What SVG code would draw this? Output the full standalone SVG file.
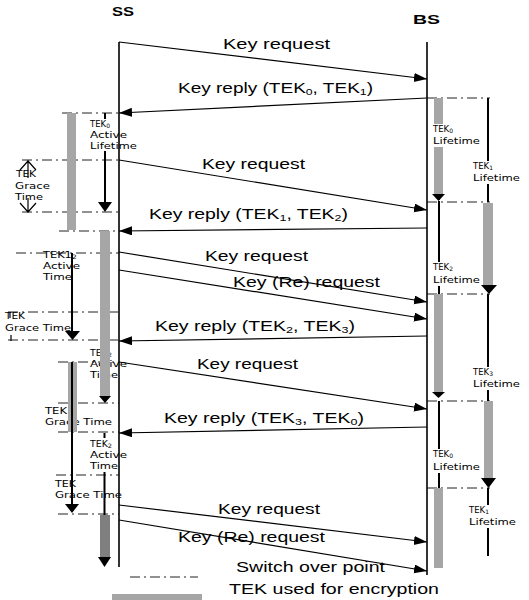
<svg xmlns="http://www.w3.org/2000/svg" width="529" height="600" viewBox="0 0 529 600">
<defs>
<style>
.msg{font-family:"Liberation Sans",Arial,sans-serif;font-size:14px;fill:#000}
.hd{font-family:"Liberation Sans",Arial,sans-serif;font-size:12px;font-weight:bold;fill:#000}
.sm{font-family:"DejaVu Sans",Verdana,sans-serif;font-size:8.5px;fill:#000}
.dd{stroke:#222;stroke-width:1;stroke-dasharray:10 4 2 4;fill:none}
.life{stroke:#000;stroke-width:1.6;fill:none}
.tl{stroke:#000;stroke-width:2;fill:none}
.grey{fill:#a6a6a6}
.dark{fill:#7f7f7f}
.ah{fill:#000}
.bg{fill:#fff}
.m{stroke:#000;stroke-width:1.2;fill:none;marker-end:url(#arr)}
.thin{stroke:#000;stroke-width:1.2;fill:none}
</style>
<marker id="arr" markerUnits="userSpaceOnUse" markerWidth="14" markerHeight="10" refX="13" refY="4.5" orient="auto">
<path d="M0,0 L13,4.5 L0,9 z" fill="#000"/>
</marker>
</defs>
<rect width="529" height="600" fill="#fff"/>

<g id="switch-lines">
<line class="dd" x1="62" y1="113" x2="119" y2="113"/>
<line class="dd" x1="22" y1="160" x2="119" y2="160"/>
<line class="dd" x1="22" y1="212" x2="119" y2="212"/>
<line class="dd" x1="59" y1="231" x2="119" y2="231"/>
<line class="dd" x1="16" y1="253" x2="119" y2="253"/>
<line class="dd" x1="8" y1="312" x2="119" y2="312"/>
<line class="dd" x1="8" y1="340" x2="119" y2="340"/>
<line class="dd" x1="58" y1="362" x2="119" y2="362"/>
<line class="dd" x1="58" y1="403" x2="119" y2="403"/>
<line class="dd" x1="58" y1="432" x2="119" y2="432"/>
<line class="dd" x1="56" y1="475" x2="119" y2="475"/>
<line class="dd" x1="58" y1="514" x2="119" y2="514"/>
<line class="dd" x1="427" y1="98" x2="490" y2="98"/>
<line class="dd" x1="427" y1="202" x2="490" y2="202"/>
<line class="dd" x1="427" y1="294" x2="490" y2="294"/>
<line class="dd" x1="427" y1="401" x2="490" y2="401"/>
<line class="dd" x1="427" y1="488" x2="490" y2="488"/>
</g>

<g id="ss-labels">
<text class="sm" x="16" y="177" textLength="20" lengthAdjust="spacingAndGlyphs">TEK</text>
<text class="sm" x="15" y="189" textLength="35" lengthAdjust="spacingAndGlyphs">Grace</text>
<text class="sm" x="15" y="200" textLength="28" lengthAdjust="spacingAndGlyphs">Time</text>
<text class="sm" x="43" y="258" textLength="34" lengthAdjust="spacingAndGlyphs">TEK1<tspan font-size="6" dy="1">2</tspan></text>
<text class="sm" x="43" y="269" textLength="37" lengthAdjust="spacingAndGlyphs">Active</text>
<text class="sm" x="43" y="280" textLength="29" lengthAdjust="spacingAndGlyphs">Time</text>
<text class="sm" x="5" y="319" textLength="20" lengthAdjust="spacingAndGlyphs">TEK</text>
<text class="sm" x="5" y="331" textLength="66" lengthAdjust="spacingAndGlyphs">Grace Time</text>
<text class="sm" x="90" y="356" textLength="22" lengthAdjust="spacingAndGlyphs">TEK<tspan font-size="6" dy="1">2</tspan></text>
<text class="sm" x="90" y="367" textLength="37" lengthAdjust="spacingAndGlyphs">Active</text>
<text class="sm" x="90" y="378" textLength="28" lengthAdjust="spacingAndGlyphs">Time</text>
<text class="sm" x="45" y="414" textLength="22" lengthAdjust="spacingAndGlyphs">TEK</text>
<text class="sm" x="45" y="425" textLength="67" lengthAdjust="spacingAndGlyphs">Grace Time</text>
<text class="sm" x="55" y="487" textLength="21" lengthAdjust="spacingAndGlyphs">TEK</text>
<text class="sm" x="55" y="498" textLength="67" lengthAdjust="spacingAndGlyphs">Grace Time</text>
</g>

<g id="grace-marks">
<path class="thin" d="M28,160 V178 M20,170 L28,161 L36,170"/>
<path class="thin" d="M28,198 V212 M20,203 L28,212 L36,203"/>
<path class="thin" d="M10,312 V318 M11,335 V341"/>
</g>

<g id="bs-timeline-under">
<line class="tl" x1="439" y1="98" x2="439" y2="200"/>
</g>

<g id="tek-bars">
<rect class="grey" x="67" y="113" width="9" height="117"/>
<rect class="grey" x="100" y="231" width="10" height="165"/>
<polygon class="ah" points="99,396 111,396 105,403"/>
<rect class="grey" x="68" y="362" width="9" height="70"/>
<rect class="dark" x="100" y="515" width="10" height="42"/>
<rect class="grey" x="434" y="98" width="9" height="97"/>
<polygon class="ah" points="432,194 445,194 438.5,201"/>
<rect class="grey" x="483" y="203" width="10" height="83"/>
<polygon class="ah" points="481,285 497,285 489,294"/>
<rect class="grey" x="434" y="294" width="9" height="99"/>
<polygon class="ah" points="432,392 445,392 438.5,398"/>
<rect class="grey" x="484" y="401" width="9" height="78"/>
<polygon class="ah" points="481,478 496,478 488.5,488"/>
<rect class="grey" x="434" y="488" width="9" height="80"/>
</g>

<g id="ss-timeline">
<line class="tl" x1="105" y1="113" x2="105" y2="204"/>
<polygon class="ah" points="98,202 112,202 105,212"/>
<line class="tl" x1="72" y1="253" x2="72" y2="332"/>
<polygon class="ah" points="65,331 80,331 72.5,340"/>
<line class="tl" x1="72" y1="362" x2="72" y2="505"/>
<polygon class="ah" points="65,504 79,504 72,513"/>
<line class="tl" x1="104.5" y1="433" x2="104.5" y2="515"/>
<line class="tl" x1="104.5" y1="557" x2="104.5" y2="559"/>
<polygon class="ah" points="98,557 111,557 104.5,567"/>
</g>

<g id="bs-timeline">
<line class="tl" x1="439" y1="201" x2="439" y2="294"/>
<line class="tl" x1="439" y1="401" x2="439" y2="488"/>
<line class="tl" x1="488" y1="98" x2="488" y2="202"/>
<line class="tl" x1="488" y1="294" x2="488" y2="401"/>
<line class="tl" x1="488" y1="488" x2="488" y2="556"/>
</g>

<g id="tek0-active">
<rect class="bg" x="88" y="119" width="29" height="32"/>
<text class="sm" x="90" y="127" textLength="20" lengthAdjust="spacingAndGlyphs">TEK<tspan font-size="6" dy="1">0</tspan></text>
<text class="sm" x="90" y="138" textLength="37" lengthAdjust="spacingAndGlyphs">Active</text>
<text class="sm" x="90" y="149" textLength="47" lengthAdjust="spacingAndGlyphs">Lifetime</text>
</g>
<g id="tek2-active-2">
<rect class="bg" x="88" y="438" width="29" height="34"/>
<text class="sm" x="90" y="447" textLength="22" lengthAdjust="spacingAndGlyphs">TEK<tspan font-size="6" dy="1">2</tspan></text>
<text class="sm" x="90" y="458" textLength="37" lengthAdjust="spacingAndGlyphs">Active</text>
<text class="sm" x="90" y="469" textLength="28" lengthAdjust="spacingAndGlyphs">Time</text>
</g>

<g id="bs-lifetimes">
<rect class="bg" x="431" y="124" width="50" height="23"/>
<text class="sm" x="433" y="132" textLength="20" lengthAdjust="spacingAndGlyphs">TEK<tspan font-size="6" dy="1">0</tspan></text>
<text class="sm" x="433" y="144" textLength="47" lengthAdjust="spacingAndGlyphs">Lifetime</text>
<rect class="bg" x="471" y="161" width="50" height="23"/>
<text class="sm" x="473" y="169" textLength="20" lengthAdjust="spacingAndGlyphs">TEK<tspan font-size="6" dy="1">1</tspan></text>
<text class="sm" x="473" y="181" textLength="47" lengthAdjust="spacingAndGlyphs">Lifetime</text>
<rect class="bg" x="431" y="262" width="50" height="24"/>
<text class="sm" x="433" y="270" textLength="20" lengthAdjust="spacingAndGlyphs">TEK<tspan font-size="6" dy="1">2</tspan></text>
<text class="sm" x="433" y="283" textLength="47" lengthAdjust="spacingAndGlyphs">Lifetime</text>
<rect class="bg" x="471" y="367" width="50" height="23"/>
<text class="sm" x="473" y="375" textLength="20" lengthAdjust="spacingAndGlyphs">TEK<tspan font-size="6" dy="1">3</tspan></text>
<text class="sm" x="473" y="387" textLength="47" lengthAdjust="spacingAndGlyphs">Lifetime</text>
<rect class="bg" x="431" y="449" width="50" height="24"/>
<text class="sm" x="433" y="457" textLength="20" lengthAdjust="spacingAndGlyphs">TEK<tspan font-size="6" dy="1">0</tspan></text>
<text class="sm" x="433" y="470" textLength="47" lengthAdjust="spacingAndGlyphs">Lifetime</text>
<rect class="bg" x="467" y="505" width="50" height="23"/>
<text class="sm" x="469" y="513" textLength="20" lengthAdjust="spacingAndGlyphs">TEK<tspan font-size="6" dy="1">1</tspan></text>
<text class="sm" x="469" y="525" textLength="47" lengthAdjust="spacingAndGlyphs">Lifetime</text>
</g>

<g id="ss">
<text class="hd" x="112" y="16" textLength="22" lengthAdjust="spacingAndGlyphs">SS</text>
<line class="life" x1="119" y1="42" x2="119" y2="567"/>
</g>
<g id="bs">
<text class="hd" x="413" y="24" textLength="27" lengthAdjust="spacingAndGlyphs">BS</text>
<line class="life" x1="427" y1="42" x2="427" y2="575"/>
</g>

<g id="connectors">
<line class="m" x1="119" y1="42" x2="427" y2="79"/>
<line class="m" x1="427" y1="98" x2="119" y2="113"/>
<line class="m" x1="119" y1="160" x2="427" y2="210"/>
<line class="m" x1="427" y1="228" x2="119" y2="231"/>
<line class="m" x1="119" y1="252" x2="427" y2="302"/>
<line class="m" x1="119" y1="270" x2="427" y2="319"/>
<line class="m" x1="427" y1="336" x2="119" y2="341"/>
<line class="m" x1="119" y1="362" x2="427" y2="409"/>
<line class="m" x1="427" y1="427" x2="119" y2="433"/>
<line class="m" x1="119" y1="505" x2="427" y2="542"/>
<line class="m" x1="119" y1="520" x2="427" y2="571"/>
<text class="msg" x="223" y="49" textLength="107" lengthAdjust="spacingAndGlyphs">Key request</text>
<text class="msg" x="178" y="93" textLength="195" lengthAdjust="spacingAndGlyphs">Key reply (TEK<tspan font-size="9" dy="2">0</tspan><tspan dy="-2">, TEK</tspan><tspan font-size="9" dy="2">1</tspan><tspan dy="-2">)</tspan></text>
<text class="msg" x="202" y="169" textLength="103" lengthAdjust="spacingAndGlyphs">Key request</text>
<text class="msg" x="149" y="219" textLength="199" lengthAdjust="spacingAndGlyphs">Key reply (TEK<tspan font-size="9" dy="2">1</tspan><tspan dy="-2">, TEK</tspan><tspan font-size="9" dy="2">2</tspan><tspan dy="-2">)</tspan></text>
<text class="msg" x="205" y="261" textLength="103" lengthAdjust="spacingAndGlyphs">Key request</text>
<text class="msg" x="233" y="287" textLength="147" lengthAdjust="spacingAndGlyphs">Key (Re) request</text>
<text class="msg" x="155" y="331" textLength="200" lengthAdjust="spacingAndGlyphs">Key reply (TEK<tspan font-size="9" dy="2">2</tspan><tspan dy="-2">, TEK</tspan><tspan font-size="9" dy="2">3</tspan><tspan dy="-2">)</tspan></text>
<text class="msg" x="197" y="369" textLength="101" lengthAdjust="spacingAndGlyphs">Key request</text>
<text class="msg" x="164" y="423" textLength="200" lengthAdjust="spacingAndGlyphs">Key reply (TEK<tspan font-size="9" dy="2">3</tspan><tspan dy="-2">, TEK</tspan><tspan font-size="9" dy="2">0</tspan><tspan dy="-2">)</tspan></text>
<text class="msg" x="218" y="514" textLength="102" lengthAdjust="spacingAndGlyphs">Key request</text>
<text class="msg" x="178" y="542" textLength="147" lengthAdjust="spacingAndGlyphs">Key (Re) request</text>
</g>

<g id="legend">
<line class="dd" x1="130" y1="577" x2="198" y2="577"/>
<text class="msg" x="236" y="572" textLength="149" lengthAdjust="spacingAndGlyphs">Switch over point</text>
<rect class="grey" x="112" y="594" width="90" height="6"/>
<text class="msg" x="229" y="594" textLength="210" lengthAdjust="spacingAndGlyphs">TEK used for encryption</text>
</g>
</svg>
